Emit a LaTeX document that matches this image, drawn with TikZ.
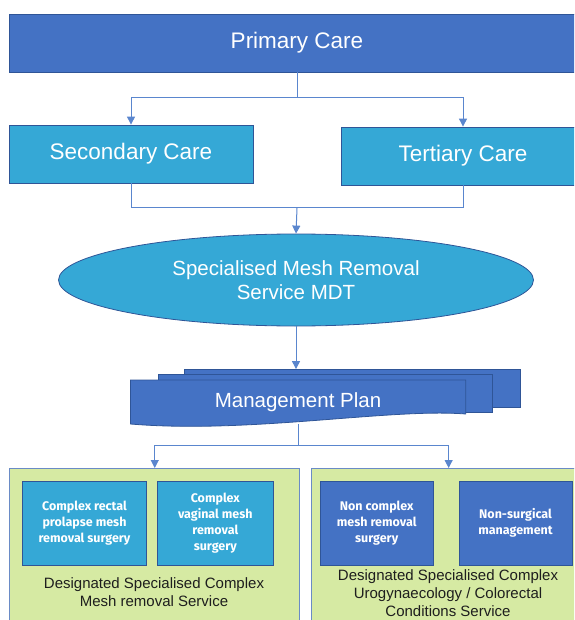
\documentclass[tikz,border=0pt]{standalone}
\usepackage{fontspec}
\setmainfont{Liberation Sans}
\newfontfamily\boxfont{Fira Sans}
\usepackage{xcolor}
\usetikzlibrary{shapes.geometric,arrows.meta}
\definecolor{darkblue}{HTML}{4472C4}
\definecolor{lightblue}{HTML}{35A8D6}
\definecolor{edgeblue}{HTML}{2F5597}
\definecolor{palegreen}{HTML}{D6EAA3}
\definecolor{frameblue}{HTML}{6A8BC6}
\definecolor{wireblue}{HTML}{5A86CE}
\definecolor{inkgray}{HTML}{1E1E1E}

\begin{document}
\begin{tikzpicture}[x=1pt, y=-1pt,
  level/.style={draw=edgeblue, line width=0.8pt, text=white, inner sep=0pt,
    font=\fontsize{22.5}{24}\selectfont, minimum height=58pt, align=center},
  doc/.style={draw=edgeblue, line width=0.8pt, fill=darkblue, inner sep=0pt},
  service/.style={draw=frameblue, line width=0.9pt, fill=palegreen,
    anchor=north west, minimum height=170pt, inner sep=0pt},
  task/.style={draw=edgeblue, line width=0.8pt, text=white, align=center,
    font=\boxfont\bfseries\fontsize{12.5}{16}\selectfont,
    minimum height=84pt, inner sep=0pt},
  caption/.style={text=inkgray, align=center, font=\fontsize{15}{18}\selectfont},
  line/.style={wireblue, line width=1pt},
  arr/.style={line, -{Triangle[length=8pt, width=8pt]}},
]
\useasboundingbox (0,0) rectangle (574,620);
\clip (0,0) rectangle (574,620);

% referral levels
\node[level, fill=darkblue, minimum width=576pt] (primary) at (297,43) {Primary Care};
\node[level, fill=lightblue, minimum width=244pt] (secondary) at (131,154) {Secondary Care};
\node[level, fill=lightblue, minimum width=244pt] (tertiary) at (463,156) {Tertiary Care};
\node[ellipse, draw=edgeblue, line width=0.8pt, fill=lightblue, text=white, align=center,
  font=\fontsize{20.5}{24}\selectfont, inner sep=0pt,
  minimum width=475pt, minimum height=92pt] (mdt) at (296,280)
  {Specialised Mesh Removal\\Service MDT};

% stacked management plan documents
\node[doc, minimum width=336pt, minimum height=38pt] (planC) at (352,388.5) {};
\node[doc, minimum width=334pt, minimum height=38pt] (planB) at (325,393.5) {};
\draw[edgeblue, line width=0.8pt, fill=darkblue] (130.5,380) -- (465.7,380) -- (465.7,414)
  .. controls (390,408) and (250,434) .. (130.5,424) -- cycle;
\node[text=white, font=\fontsize{20.5}{24}\selectfont, inner sep=0pt,
  minimum width=335pt, minimum height=44pt] (plan) at (298,402) {Management Plan};

% designated services
\node[service, minimum width=290pt] (meshsvc) at (9.3,468) {};
\node[service, minimum width=275pt] (urosvc) at (310.7,468) {};
\node[task, fill=lightblue, minimum width=124pt] (rectal) at (84.5,523)
  {Complex rectal\\prolapse mesh\\removal surgery};
\node[task, fill=lightblue, minimum width=116pt] (vaginal) at (215.3,523)
  {Complex\\vaginal mesh\\removal\\surgery};
\node[task, fill=darkblue, minimum width=113pt] (noncomplex) at (376.7,523)
  {Non complex\\mesh removal\\surgery};
\node[task, fill=darkblue, minimum width=113pt] (nonsurg) at (515.5,523)
  {Non-surgical\\management};
\node[caption] (meshlbl) at (154,592) {Designated Specialised Complex\\Mesh removal Service};
\node[caption] (urolbl) at (448,593.5)
  {Designated Specialised Complex\\Urogynaecology / Colorectal\\Conditions Service};

% connectors
\coordinate (join) at (297,208);
\draw[arr] (primary.south) -- ++(0,25) -| (secondary.north);
\draw[arr] (primary.south) -- ++(0,25) -| (tertiary.north);
\draw[line] (secondary.south) |- (join);
\draw[line] (tertiary.south) |- (join);
\draw[arr] (join) -- (mdt.north);
\draw[arr] (mdt.south) -- (mdt.south |- planC.north);
\draw[arr] (plan.south) -- ++(0,21) -| (meshsvc.north);
\draw[arr] (plan.south) -- ++(0,21) -| (urosvc.north);
\end{tikzpicture}
\end{document}
